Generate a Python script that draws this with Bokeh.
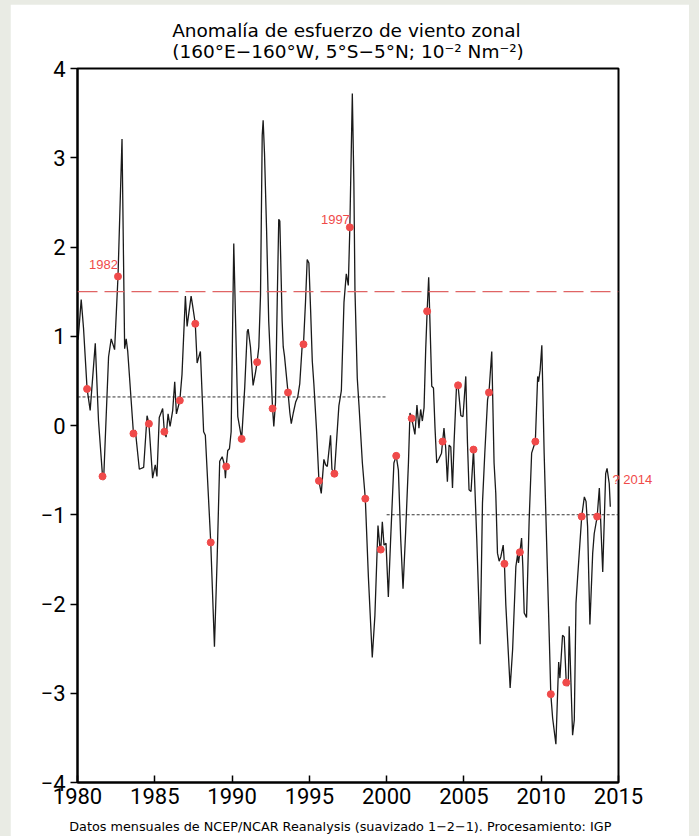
from bokeh.plotting import figure
from bokeh.models import Range1d, FixedTicker, Label, Span, LinearAxis
from bokeh.embed import file_html
from bokeh.resources import INLINE

# ---- data ----
curve_years = [
    1980.04, 1980.24, 1980.39, 1980.62, 1980.82, 1981.15, 1981.36, 1981.62, 1981.69,
    1982.01, 1982.18, 1982.40, 1982.62, 1982.88, 1983.05, 1983.15, 1983.25, 1983.62,
    1983.74, 1984.00, 1984.28, 1984.50, 1984.62, 1984.86, 1985.03, 1985.14, 1985.29,
    1985.51, 1985.62, 1985.73, 1985.86, 1985.99, 1986.16, 1986.29, 1986.40, 1986.62,
    1986.76, 1986.98, 1987.09, 1987.35, 1987.45, 1987.62, 1987.74, 1987.95, 1988.16,
    1988.27, 1988.62, 1988.86, 1989.03, 1989.20, 1989.36, 1989.51, 1989.57, 1989.62,
    1989.72, 1989.83, 1989.94, 1990.11, 1990.37, 1990.62, 1990.82, 1990.98, 1991.04,
    1991.19, 1991.36, 1991.51, 1991.62, 1991.73, 1991.84, 1991.95, 1992.01, 1992.10,
    1992.23, 1992.37, 1992.53, 1992.62, 1992.70, 1992.81, 1992.92, 1993.02, 1993.09,
    1993.24, 1993.31, 1993.39, 1993.62, 1993.74, 1993.83, 1993.96, 1994.11, 1994.25,
    1994.38, 1994.53, 1994.62, 1994.75, 1994.86, 1994.97, 1995.08, 1995.19, 1995.29,
    1995.47, 1995.62, 1995.77, 1995.94, 1996.05, 1996.16, 1996.37, 1996.46, 1996.62,
    1996.91, 1997.07, 1997.24, 1997.39, 1997.52, 1997.62, 1997.78, 1997.88, 1997.95,
    1998.10, 1998.21, 1998.43, 1998.62, 1998.82, 1999.07, 1999.24, 1999.44, 1999.57,
    1999.62, 1999.72, 1999.83, 1999.96, 2000.11, 2000.26, 2000.47, 2000.62, 2000.76,
    2000.91, 2001.06, 2001.23, 2001.41, 2001.51, 2001.62, 2001.83, 2001.96, 2002.09,
    2002.20, 2002.31, 2002.42, 2002.53, 2002.62, 2002.72, 2002.92, 2003.03, 2003.13,
    2003.24, 2003.39, 2003.55, 2003.62, 2003.71, 2003.82, 2003.93, 2004.04, 2004.15,
    2004.26, 2004.36, 2004.52, 2004.62, 2004.80, 2004.94, 2005.12, 2005.23, 2005.33,
    2005.46, 2005.62, 2005.83, 2006.05, 2006.20, 2006.35, 2006.53, 2006.62, 2006.80,
    2006.95, 2007.06, 2007.17, 2007.28, 2007.39, 2007.54, 2007.62, 2007.71, 2007.99,
    2008.15, 2008.36, 2008.47, 2008.53, 2008.62, 2008.73, 2008.81, 2008.90, 2009.05,
    2009.22, 2009.38, 2009.62, 2009.77, 2009.83, 2009.93, 2010.04, 2010.19, 2010.37,
    2010.52, 2010.62, 2010.74, 2010.95, 2011.06, 2011.13, 2011.21, 2011.38, 2011.49,
    2011.62, 2011.75, 2011.81, 2012.03, 2012.14, 2012.25, 2012.36, 2012.62, 2012.79,
    2012.90, 2013.00, 2013.15, 2013.33, 2013.43, 2013.62, 2013.76, 2013.98, 2014.17,
    2014.26, 2014.40, 2014.47,
]
curve_values = [
    0.96, 1.41, 1.09, 0.41, 0.17, 0.92, 0.05, -0.57, -0.61,
    0.77, 0.97, 0.85, 1.67, 3.21, 0.86, 0.97, 0.83, -0.09,
    -0.05, -0.49, -0.47, 0.11, 0.02, -0.59, -0.44, -0.57, 0.09,
    0.19, -0.07, -0.13, 0.13, -0.01, 0.17, 0.49, 0.13, 0.28,
    0.57, 1.45, 1.11, 1.45, 1.34, 1.14, 0.70, 0.83, -0.07,
    -0.11, -1.31, -2.48, -1.52, -0.40, -0.35, -0.44, -0.59, -0.46,
    -0.28, -0.26, -0.07, 2.04, 0.10, -0.15, 0.43, 1.05, 1.08,
    0.88, 0.45, 0.59, 0.71, 0.88, 1.46, 3.25, 3.42, 3.04,
    2.21, 1.17, 0.55, 0.19, -0.01, 0.26, 1.38, 2.31, 2.29,
    1.17, 0.88, 0.78, 0.37, 0.14, 0.02, 0.14, 0.26, 0.32,
    0.47, 0.88, 0.91, 1.38, 1.86, 1.82, 1.30, 0.72, 0.47,
    -0.07, -0.62, -0.76, -0.38, -0.44, -0.46, -0.11, -0.49, -0.54,
    0.22, 0.39, 1.38, 1.70, 1.57, 2.22, 3.72, 2.71, 1.52,
    0.53, 0.23, -0.42, -0.82, -1.70, -2.60, -2.13, -1.12, -1.38,
    -1.39, -1.08, -1.34, -1.32, -1.92, -1.27, -0.42, -0.34, -0.50,
    -1.27, -1.83, -1.19, -0.42, 0.14, 0.08, -0.10, 0.23, -0.03,
    0.18, 0.05, 0.20, 0.87, 1.28, 1.66, 0.44, 0.42, -0.03,
    -0.42, -0.37, -0.31, -0.18, -0.03, -0.25, -0.63, -0.22, -0.24,
    -0.70, -0.20, 0.44, 0.45, 0.11, 0.10, 0.55, -0.20, -0.72,
    -0.74, -0.27, -1.27, -2.45, -0.87, -0.31, 0.29, 0.37, 0.83,
    -0.42, -0.76, -1.43, -1.52, -1.47, -1.34, -1.55, -2.01, -2.94,
    -2.51, -1.58, -1.45, -1.54, -1.42, -1.26, -1.58, -2.10, -2.15,
    -1.06, -0.31, -0.18, 0.55, 0.49, 0.62, 0.90, -0.31, -1.43,
    -2.37, -3.01, -3.28, -3.57, -3.00, -2.65, -2.83, -2.35, -2.37,
    -2.88, -2.92, -2.25, -3.47, -3.30, -1.99, -1.69, -1.02, -0.80,
    -0.85, -1.13, -2.23, -1.43, -1.21, -1.02, -0.70, -1.64, -0.54,
    -0.48, -0.65, -0.91,
]

dot_base_years = list(range(1980, 2014))
dot_values = [
    0.41, -0.57, 1.67, -0.09, 0.02, -0.07, 0.28, 1.14, -1.31, -0.46,
    -0.15, 0.71, 0.19, 0.37, 0.91, -0.62, -0.54, 2.22, -0.82, -1.39,
    -0.34, 0.08, 1.28, -0.18, 0.45, -0.27, 0.37, -1.55, -1.42, -0.18,
    -3.01, -2.88, -1.02, -1.02,
]
dot_month_offset = 0.62  # dots sit at mid-year (Jul/Aug)

threshold_value = 1.5
mean_starts = [1980, 2000]
mean_ends = [2000, 2015]
mean_values = [0.32, -1.0]

highlight_years = [1982, 1997]
pending_label = "? 2014"
pending_value = -0.6

x_ticks = [1980, 1985, 1990, 1995, 2000, 2005, 2010, 2015]
y_ticks = [-4, -3, -2, -1, 0, 1, 2, 3, 4]
y_tick_labels = ["\u22124", "\u22123", "\u22122", "\u22121", "0", "1", "2", "3", "4"]

title_line1 = "Anomal\u00eda de esfuerzo de viento zonal"
title_line2 = "(160\u00b0E\u2212160\u00b0W, 5\u00b0S\u22125\u00b0N; 10\u207b\u00b2 Nm\u207b\u00b2)"
caption = "Datos mensuales de NCEP/NCAR Reanalysis (suavizado 1\u22122\u22121). Procesamiento: IGP"

# ---- figure ----
TICK_FONT = "Roboto"
TEXT_FONT = "DejaVu Sans"
RED = "#f04a4a"

p = figure(width=679, height=832, x_range=Range1d(1980, 2015), y_range=Range1d(-4, 4),
           output_backend="svg", toolbar_location=None,
           min_border_left=67, min_border_right=71, min_border_top=64, min_border_bottom=53)
p.margin = (4, 10, 0, 10)
p.background_fill_color = "white"
p.border_fill_color = "white"
p.outline_line_color = "black"
p.outline_line_width = 2
p.xgrid.visible = False
p.ygrid.visible = False

# two-line title
p.title.text = title_line1 + "\n" + title_line2
p.title.align = "center"
p.title.text_font = TEXT_FONT
p.title.text_font_size = "18.5px"
p.title.text_font_style = "normal"
p.title.text_color = "black"
p.title.text_line_height = 1.0
p.title.standoff = 14

p.xaxis.ticker = FixedTicker(ticks=x_ticks)
p.xaxis.major_tick_in = 7
p.xaxis.major_tick_out = 0
p.xaxis.minor_tick_line_color = None
p.xaxis.major_label_standoff = 5
p.yaxis.ticker = FixedTicker(ticks=y_ticks)
p.yaxis.major_label_overrides = {t: s for t, s in zip(y_ticks, y_tick_labels)}
p.yaxis.major_tick_in = 0
p.yaxis.major_tick_out = 7
p.yaxis.minor_tick_line_color = None
p.yaxis.major_label_standoff = 5
for ax in (p.xaxis, p.yaxis):
    ax.axis_line_width = 2
    ax.axis_line_color = "black"
    ax.major_tick_line_width = 1.5
    ax.major_tick_line_color = "black"
    ax.major_label_text_font = TICK_FONT
    ax.major_label_text_font_size = "22px"
    ax.major_label_text_color = "black"

# caption under the x axis (a label-only axis, so it can sit close to the bottom edge)
caption_x = (x_ticks[0] + x_ticks[-1]) / 2 - 0.5
cap_axis = LinearAxis(ticker=FixedTicker(ticks=[caption_x]),
                      major_label_overrides={caption_x: caption})
cap_axis.axis_line_color = None
cap_axis.major_tick_line_color = None
cap_axis.minor_tick_line_color = None
cap_axis.major_tick_in = 0
cap_axis.major_tick_out = 0
cap_axis.major_label_standoff = 12
cap_axis.major_label_text_font = TEXT_FONT
cap_axis.major_label_text_font_size = "12.8px"
cap_axis.major_label_text_color = "black"
p.add_layout(cap_axis, "below")

# right-hand note for the missing 2014 value
note_axis = LinearAxis(ticker=FixedTicker(ticks=[pending_value]),
                       major_label_overrides={pending_value: pending_label})
note_axis.axis_line_color = None
note_axis.major_tick_line_color = None
note_axis.minor_tick_line_color = None
note_axis.major_tick_in = 0
note_axis.major_tick_out = 0
note_axis.major_label_standoff = -6
note_axis.major_label_text_color = RED
note_axis.major_label_text_font = "Liberation Sans"
note_axis.major_label_text_font_size = "13px"
p.add_layout(note_axis, "right")

# reference lines
p.add_layout(Span(location=threshold_value, dimension="width", line_color="#e06464",
                  line_width=1.2, line_dash="20 7"))
for x0, x1, v in zip(mean_starts, mean_ends, mean_values):
    p.line([x0, x1], [v, v], line_color="#333333", line_width=1, line_dash="3 2")

# series
p.line(curve_years, curve_values, line_color="#1a1a1a", line_width=1.3)
dot_years = [y + dot_month_offset for y in dot_base_years]
p.scatter(dot_years, dot_values, size=7, fill_color=RED, line_color=RED)

# red labels of the strongest years
label_lift = {1982: 7, 1997: 3}
for yr in highlight_years:
    i = dot_base_years.index(yr)
    p.add_layout(Label(x=dot_years[i], y=dot_values[i], text=str(yr), text_align="right",
                       text_baseline="bottom", y_offset=label_lift[yr], text_font="Liberation Sans",
                       text_font_size="13px", text_color=RED))

html = file_html(p, INLINE)
html = html.replace("</head>", "<style>body{background-color:#e9ebe4;}</style></head>", 1)
open("out.html", "w").write(html)
